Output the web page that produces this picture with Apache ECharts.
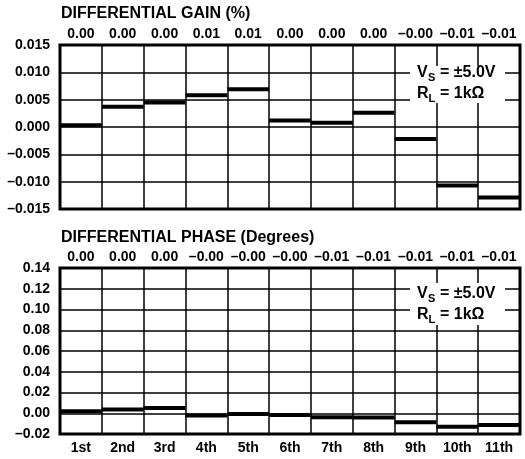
<!DOCTYPE html>
<html>
<head>
<meta charset="utf-8">
<script src="https://cdn.jsdelivr.net/npm/echarts@6/dist/echarts.min.js"></script>
<style>
html,body{margin:0;padding:0;background:#fff;}
#chart{width:525px;height:459px;}
</style>
</head>
<body>
<div id="chart"></div>
<script>
const harmonics = ['1st','2nd','3rd','4th','5th','6th','7th','8th','9th','10th','11th'];
const gainValues = [0.0003, 0.0037, 0.0045, 0.0058, 0.0069, 0.0012, 0.0008, 0.0026, -0.0022, -0.0107, -0.0129];
const gainLabels = ['0.00','0.00','0.00','0.01','0.01','0.00','0.00','0.00','\u20130.00','\u20130.01','\u20130.01'];
const phaseValues = [0.0019, 0.0035, 0.0050, -0.0022, -0.0008, -0.0016, -0.0039, -0.0040, -0.0087, -0.0129, -0.0113];
const phaseLabels = ['0.00','0.00','0.00','\u20130.00','\u20130.00','\u20130.00','\u20130.01','\u20130.01','\u20130.01','\u20130.01','\u20130.01'];
const gainTicks = {min: -0.015, max: 0.015, interval: 0.005, digits: 3};
const phaseTicks = {min: -0.02, max: 0.14, interval: 0.02, digits: 2};

const FONT = 'Liberation Sans';
const lbl = {color: '#000', fontFamily: FONT, fontWeight: 'bold', fontSize: 14};

function fmt(d) {
  return v => {
    const s = (Math.round(v / Math.pow(10, -d)) * Math.pow(10, -d)).toFixed(d);
    return s.startsWith('-') ? '\u2013' + s.slice(1) : s;
  };
}

const renderStep = (params, api) => {
  const c = api.coord([api.value(0), api.value(1)]);
  const w = api.size([1, 0])[0];
  return {type: 'rect', shape: {x: c[0] - w / 2, y: c[1] - 2, width: w, height: 4}, style: {fill: '#000'}};
};

function yAxis(gridIndex, t) {
  return {
    type: 'value', gridIndex, min: t.min, max: t.max, interval: t.interval,
    axisLine: {show: false}, axisTick: {show: false},
    axisLabel: Object.assign({margin: 10, formatter: fmt(t.digits)}, lbl),
    splitLine: {lineStyle: {color: '#000', width: 1.5}}
  };
}

function annotation(x, y1, y2, boxY, boxH) {
  const t = (text, x0, y0, size) => ({type: 'text', x: x0, y: y0, z: 11,
    style: {text, fill: '#000', font: 'bold ' + size + 'px "' + FONT + '"', textVerticalAlign: 'middle'}});
  return [
    {type: 'rect', shape: {x: 410, y: boxY, width: 95, height: boxH}, style: {fill: '#fff'}, z: 10},
    t('V', x, y1, 16),
    t('S', x + 11, y1 + 5, 11),
    t('= \u00b15.0V', x + 23, y1, 16),
    t('R', x, y2, 16),
    t('L', x + 11.5, y2 + 5, 11),
    t('= 1k\u03a9', x + 23, y2, 16)
  ];
}

const chart = echarts.init(document.getElementById('chart'), null, {renderer: 'canvas'});
chart.setOption({
  animation: false,
  backgroundColor: '#fff',
  title: [
    {text: 'DIFFERENTIAL GAIN (%)', left: 61, top: 6, padding: 0, textStyle: {color: '#000', fontFamily: FONT, fontWeight: 'bold', fontSize: 16}},
    {text: 'DIFFERENTIAL PHASE (Degrees)', left: 61, top: 230, padding: 0, textStyle: {color: '#000', fontFamily: FONT, fontWeight: 'bold', fontSize: 16}}
  ],
  grid: [
    {left: 60, right: 5, top: 45, height: 164, show: true, borderColor: '#000', borderWidth: 3, backgroundColor: 'transparent', z: 5},
    {left: 60, right: 5, top: 268, height: 166, show: true, borderColor: '#000', borderWidth: 3, backgroundColor: 'transparent', z: 5}
  ],
  xAxis: [
    {type: 'category', gridIndex: 0, position: 'top', data: gainLabels, boundaryGap: true,
     axisLine: {show: false}, axisTick: {show: false}, axisLabel: Object.assign({margin: 4, interval: 0}, lbl),
     splitLine: {show: true, interval: 0, lineStyle: {color: '#000', width: 1.5}}},
    {type: 'category', gridIndex: 1, position: 'top', data: phaseLabels, boundaryGap: true,
     axisLine: {show: false}, axisTick: {show: false}, axisLabel: Object.assign({margin: 4, interval: 0}, lbl),
     splitLine: {show: true, interval: 0, lineStyle: {color: '#000', width: 1.5}}},
    {type: 'category', gridIndex: 1, position: 'bottom', data: harmonics, boundaryGap: true,
     axisLine: {show: false}, axisTick: {show: false}, axisLabel: Object.assign({margin: 7, interval: 0}, lbl),
     splitLine: {show: false}}
  ],
  yAxis: [yAxis(0, gainTicks), yAxis(1, phaseTicks)],
  series: [
    {type: 'custom', xAxisIndex: 0, yAxisIndex: 0, renderItem: renderStep, encode: {x: 0, y: 1}, z: 6,
     data: gainValues.map((v, i) => [i, v])},
    {type: 'custom', xAxisIndex: 1, yAxisIndex: 1, renderItem: renderStep, encode: {x: 0, y: 1}, z: 6,
     data: phaseValues.map((v, i) => [i, v])}
  ],
  graphic: annotation(417, 73, 94, 66, 37).concat(annotation(417, 294, 315, 283, 42))
});
</script>
</body>
</html>
